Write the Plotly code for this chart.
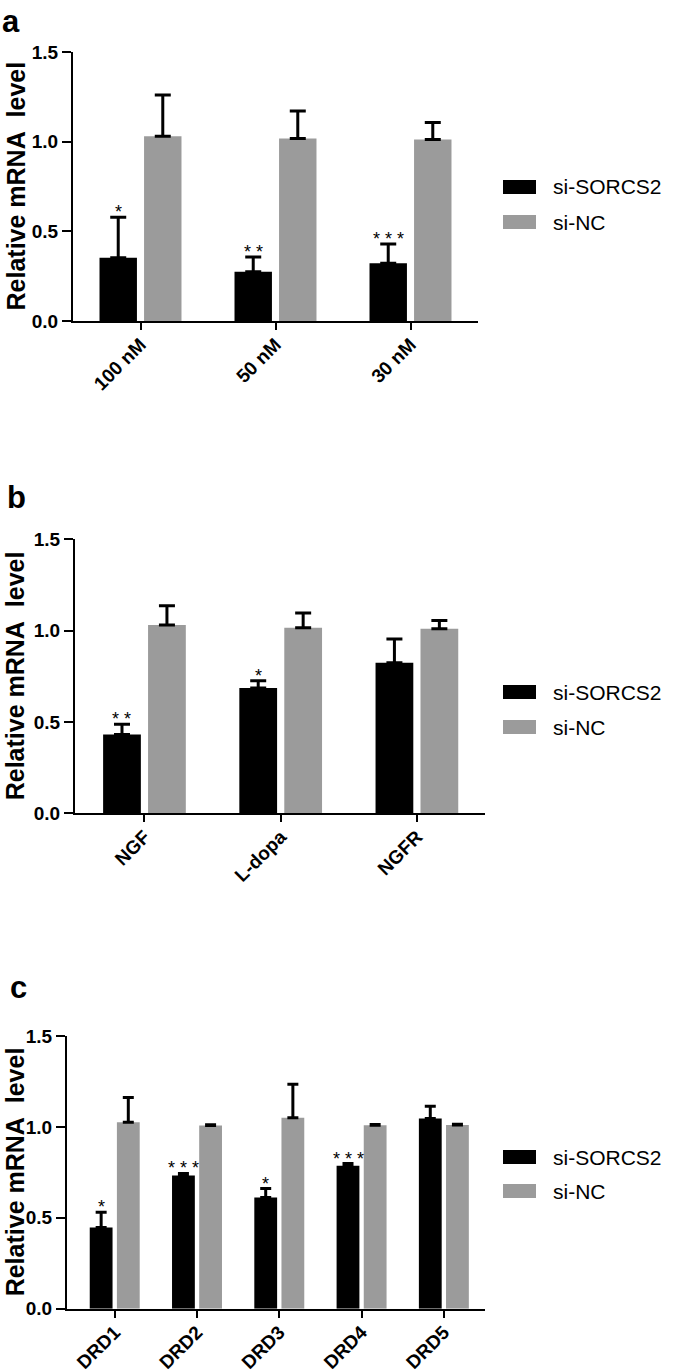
import plotly.graph_objects as go

# ---------------- data ----------------
cats_a = ["100 nM", "50 nM", "30 nM"]
sorcs_a = [0.353, 0.275, 0.322]
sorcs_a_err = [0.225, 0.082, 0.107]
nc_a = [1.030, 1.018, 1.012]
nc_a_err = [0.230, 0.153, 0.095]
sig_a = ["*", "* *", "* * *"]

cats_b = ["NGF", "L-dopa", "NGFR"]
sorcs_b = [0.432, 0.686, 0.824]
sorcs_b_err = [0.055, 0.040, 0.130]
nc_b = [1.031, 1.016, 1.010]
nc_b_err = [0.105, 0.080, 0.045]
sig_b = ["* *", "*", ""]

cats_c = ["DRD1", "DRD2", "DRD3", "DRD4", "DRD5"]
sorcs_c = [0.446, 0.733, 0.612, 0.786, 1.046]
sorcs_c_err = [0.084, 0.011, 0.049, 0.012, 0.068]
nc_c = [1.026, 1.008, 1.050, 1.009, 1.011]
nc_c_err = [0.136, 0.004, 0.185, 0.004, 0.004]
sig_c = ["*", "* * *", "*", "* * *", ""]

series_names = ["si-SORCS2", "si-NC"]
y_ticks = [0, 0.5, 1.0, 1.5]
y_title = "Relative mRNA\u00a0 level"
panel_letters = ["a", "b", "c"]

# ---------------- style ----------------
W, H = 675, 1372
FONT = "Liberation Sans, Arial, Helvetica, sans-serif"
BLACK = "#000000"
GRAY = "#9b9b9b"
BARGAP = 0.34
BARGROUPGAP = 0.16


def px(x):
    return x / W


def py(y):
    return 1 - y / H


panels = [
    dict(cats=cats_a, s=sorcs_a, se=sorcs_a_err, n=nc_a, ne=nc_a_err, sig=sig_a,
         xdom=(73, 478), ydom=(52, 321), xr=[-0.5, 2.5], cap=8,
         letter_y=2, letter_x=0, leg=(187, 222)),
    dict(cats=cats_b, s=sorcs_b, se=sorcs_b_err, n=nc_b, ne=nc_b_err, sig=sig_b,
         xdom=(75, 485), ydom=(539.3, 813.3), xr=[-0.51, 2.5], cap=8,
         letter_y=478, letter_x=5, leg=(692, 727)),
    dict(cats=cats_c, s=sorcs_c, se=sorcs_c_err, n=nc_c, ne=nc_c_err, sig=sig_c,
         xdom=(67, 485), ydom=(1036, 1308.7), xr=[-0.58, 4.5], cap=5.5,
         letter_y=968, letter_x=8, leg=(1157, 1191)),
]

fig = go.Figure()
annotations = []
shapes = []
layout_axes = {}

for k, p in enumerate(panels, start=1):
    xa = "x" if k == 1 else f"x{k}"
    ya = "y" if k == 1 else f"y{k}"
    xname = "xaxis" if k == 1 else f"xaxis{k}"
    yname = "yaxis" if k == 1 else f"yaxis{k}"

    fig.add_trace(go.Bar(
        x=p["cats"], y=p["s"], name=series_names[0], xaxis=xa, yaxis=ya,
        marker=dict(color=BLACK, line=dict(width=0)),
        error_y=dict(type="data", symmetric=False, array=p["se"],
                     arrayminus=[0] * len(p["se"]), color=BLACK,
                     thickness=3, width=p["cap"]),
        showlegend=False,
    ))
    fig.add_trace(go.Bar(
        x=p["cats"], y=p["n"], name=series_names[1], xaxis=xa, yaxis=ya,
        marker=dict(color=GRAY, line=dict(width=0)),
        error_y=dict(type="data", symmetric=False, array=p["ne"],
                     arrayminus=[0] * len(p["ne"]), color=BLACK,
                     thickness=3, width=p["cap"]),
        showlegend=False,
    ))

    layout_axes[xname] = dict(
        domain=[px(p["xdom"][0]), px(p["xdom"][1])], anchor=ya,
        type="category", range=p["xr"], automargin=False,
        showline=True, linecolor=BLACK, linewidth=2, mirror=False,
        ticks="outside", ticklen=7, tickwidth=2, tickcolor=BLACK,
        tickangle=-45, ticklabelstandoff=-4,
        showgrid=False, zeroline=False,
        tickfont=dict(family=FONT, size=19, color=BLACK, weight="bold"),
        fixedrange=True,
    )
    layout_axes[yname] = dict(
        domain=[py(p["ydom"][1]), py(p["ydom"][0])], anchor=xa,
        range=[0, 1.5], tickvals=y_ticks, tickformat=".1f", automargin=False,
        showline=True, linecolor=BLACK, linewidth=2,
        ticks="outside", ticklen=9, tickwidth=2, tickcolor=BLACK,
        showgrid=False, zeroline=False,
        tickfont=dict(family=FONT, size=19, color=BLACK, weight="bold"),
        fixedrange=True,
    )

    # significance asterisks above black bars' error bars
    off = (1 - BARGAP) / 4
    for i, txt in enumerate(p["sig"]):
        if not txt:
            continue
        annotations.append(dict(
            x=i - off, y=p["s"][i] + p["se"][i], xref=xa, yref=ya,
            text=txt, showarrow=False, xanchor="center", yanchor="bottom",
            yshift=-7, font=dict(family=FONT, size=18, color=BLACK),
        ))

    # y-axis title
    yc = (p["ydom"][0] + p["ydom"][1]) / 2
    annotations.append(dict(
        x=px(15), y=py(yc), xref="paper", yref="paper", text=y_title,
        textangle=-90, showarrow=False, xanchor="center", yanchor="middle",
        font=dict(family=FONT, size=25, color=BLACK, weight="bold"),
    ))

    # panel letter
    annotations.append(dict(
        x=px(p["letter_x"]), y=py(p["letter_y"]), xref="paper", yref="paper",
        text=panel_letters[k - 1], showarrow=False, xanchor="left",
        yanchor="top",
        font=dict(family=FONT, size=31, color=BLACK, weight="bold"),
    ))

    # legend (drawn manually to reproduce the wide swatches)
    for name, col, cy in zip(series_names, [BLACK, GRAY], p["leg"]):
        shapes.append(dict(
            type="rect", xref="paper", yref="paper",
            x0=px(503), x1=px(536), y0=py(cy + 7), y1=py(cy - 7),
            fillcolor=col, line=dict(width=0),
        ))
        annotations.append(dict(
            x=px(551), y=py(cy), xref="paper", yref="paper", text=name,
            showarrow=False, xanchor="left", yanchor="middle",
            font=dict(family=FONT, size=21, color=BLACK),
        ))

fig.update_layout(
    template="none",
    width=W, height=H,
    margin=dict(l=0, r=0, t=0, b=0, pad=0, autoexpand=False),
    paper_bgcolor="white", plot_bgcolor="white",
    barmode="group", bargap=BARGAP, bargroupgap=BARGROUPGAP,
    showlegend=False,
    annotations=annotations, shapes=shapes,
    font=dict(family=FONT, color=BLACK),
    **layout_axes,
)

# remove the default 8px page margin so the figure fills the window exactly
fig.write_html("out.html",
               config={"displayModeBar": False, "staticPlot": True},
               post_script="document.body.style.margin='0';"
                           "document.body.style.overflow='hidden';")
